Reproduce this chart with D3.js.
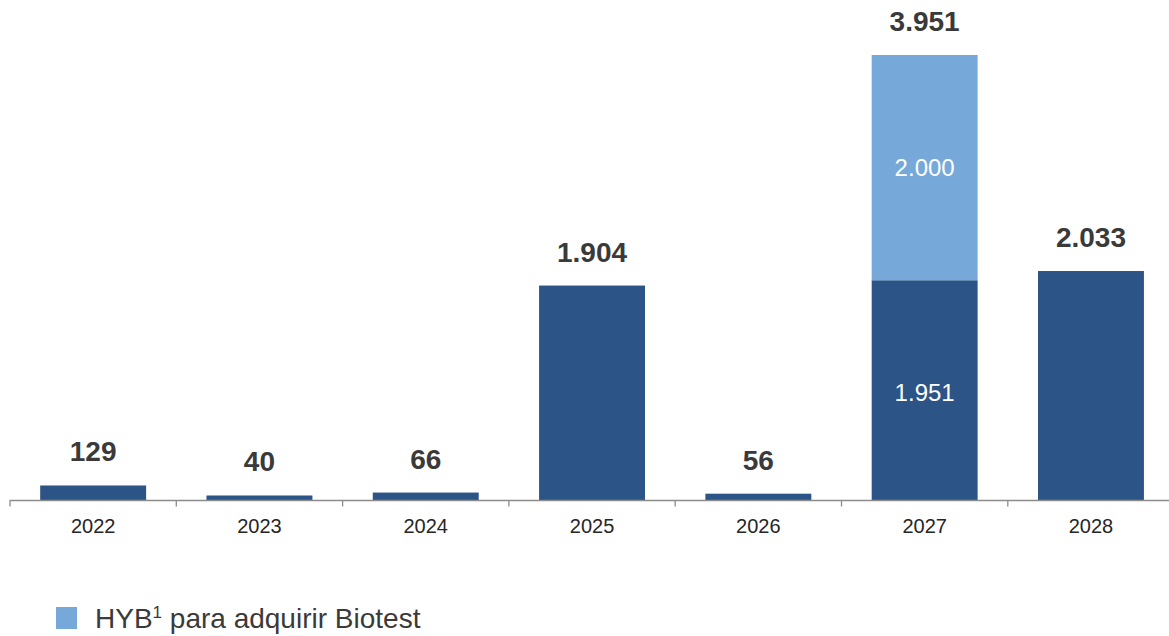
<!DOCTYPE html>
<html>
<head>
<meta charset="utf-8">
<script src="https://cdn.jsdelivr.net/npm/d3@7"></script>
<style>
	html, body { margin: 0; padding: 0; background: #ffffff; overflow: hidden; }
	svg { display: block; font-family: "Liberation Sans", Arial, sans-serif; }
</style>
</head>
<body>
<svg id="debt-plot" width="1169" height="636" viewBox="0 0 1169 636"></svg>
<script>

// maturity profile (millions)
const years = ["2022", "2023", "2024", "2025", "2026", "2027", "2028"];
const base_debt = [129, 40, 66, 1904, 56, 1951, 2033];
const hyb_debt = [0, 0, 0, 0, 0, 2000, 0];
const legend_labels = ["HYB", "1", " para adquirir Biotest"];

const color_base = "#2c5486";
const color_hyb = "#76a9da";

class DebtPlot {

	constructor(svg_element_id) {
		this.svg = d3.select('#' + svg_element_id);

		const svg_viewbox = this.svg.node().viewBox.animVal;
		this.svg_width = svg_viewbox.width;
		this.svg_height = svg_viewbox.height;

		const es = d3.formatLocale({decimal: ",", thousands: ".", grouping: [3], currency: ["", " €"]});
		const fmt = es.format(",.0f");

		const data = years.map((y, i) => ({
			year: y,
			base: base_debt[i],
			hyb: hyb_debt[i],
			total: base_debt[i] + hyb_debt[i]
		}));

		const baseline_y = 500;
		const left_x = 10;
		const step = 166.3;

		const x = d3.scaleBand()
			.domain(years)
			.range([left_x, left_x + step * years.length])
			.paddingInner(0.363)
			.paddingOuter(0.1815);

		const y = d3.scaleLinear()
			.domain([0, d3.max(data, d => d.total)])
			.range([baseline_y, 55]);

		// dark bars
		this.svg.append("g")
			.selectAll("rect")
			.data(data)
			.enter()
			.append("rect")
				.attr("x", d => x(d.year))
				.attr("width", x.bandwidth())
				.attr("y", d => y(d.base))
				.attr("height", d => baseline_y - y(d.base))
				.attr("fill", color_base);

		// HYB on top
		this.svg.append("g")
			.selectAll("rect")
			.data(data.filter(d => d.hyb > 0))
			.enter()
			.append("rect")
				.attr("x", d => x(d.year))
				.attr("width", x.bandwidth())
				.attr("y", d => y(d.total))
				.attr("height", d => y(d.base) - y(d.total))
				.attr("fill", color_hyb);

		// axis
		const axis = d3.axisBottom(x)
			.tickSize(0)
			.tickPadding(0);

		const axis_g = this.svg.append("g")
			.attr("transform", "translate(0," + baseline_y + ")")
			.call(axis);
		axis_g.select(".domain").remove();
		axis_g.append("line")
			.attr("x1", left_x)
			.attr("x2", this.svg_width)
			.attr("y1", 0.5)
			.attr("y2", 0.5)
			.attr("stroke", "#8c8c8c")
			.attr("stroke-width", 1.3);
		axis_g.selectAll(".sep")
			.data(d3.range(years.length + 1))
			.enter()
			.append("line")
				.attr("class", "sep")
				.attr("x1", i => left_x + i * step)
				.attr("x2", i => left_x + i * step)
				.attr("y1", 0)
				.attr("y2", 6.5)
				.attr("stroke", "#8c8c8c")
				.attr("stroke-width", 1.3);
		axis_g.selectAll(".tick text")
			.attr("y", 33)
			.attr("dy", 0)
			.attr("fill", "#262626")
			.style("font-size", "20px")
			.style("font-family", "Liberation Sans, Arial, sans-serif");

		// totals above bars
		this.svg.append("g")
			.selectAll("text")
			.data(data)
			.enter()
			.append("text")
				.attr("x", d => x(d.year) + x.bandwidth() / 2)
				.attr("y", d => y(d.total) - 24)
				.attr("text-anchor", "middle")
				.attr("fill", "#3a3a3a")
				.style("font-size", "28px")
				.style("font-weight", "bold")
				.text(d => fmt(d.total));

		// segment labels inside the stacked bar
		const stacked = data.filter(d => d.hyb > 0);
		const seg_g = this.svg.append("g");
		stacked.forEach(d => {
			seg_g.append("text")
				.attr("x", x(d.year) + x.bandwidth() / 2)
				.attr("y", (y(d.total) + y(d.base)) / 2)
				.attr("dy", "0.36em")
				.attr("text-anchor", "middle")
				.attr("fill", "#ffffff")
				.style("font-size", "24px")
				.text(fmt(d.hyb));
			seg_g.append("text")
				.attr("x", x(d.year) + x.bandwidth() / 2)
				.attr("y", (y(d.base) + y(0)) / 2 + 2)
				.attr("dy", "0.36em")
				.attr("text-anchor", "middle")
				.attr("fill", "#ffffff")
				.style("font-size", "24px")
				.text(fmt(d.base));
		});

		// legend (kept just inside the bottom edge)
		const legend = this.svg.append("g")
			.attr("transform", "translate(56, 607)");
		legend.append("rect")
			.attr("width", 21)
			.attr("height", 22)
			.attr("fill", color_hyb);
		const lt = legend.append("text")
			.attr("x", 39)
			.attr("y", 21)
			.attr("fill", "#3a3a3a")
			.style("font-size", "28px");
		lt.append("tspan").text(legend_labels[0]);
		lt.append("tspan")
			.attr("dy", -10)
			.style("font-size", "17px")
			.text(legend_labels[1]);
		lt.append("tspan")
			.attr("dy", 10)
			.text(legend_labels[2]);
	}
}

function whenDocumentLoaded(action) {
	if (document.readyState === "loading") {
		document.addEventListener("DOMContentLoaded", action);
	} else {
		action();
	}
}

whenDocumentLoaded(() => {
	plot_object = new DebtPlot('debt-plot');
});

</script>
</body>
</html>
